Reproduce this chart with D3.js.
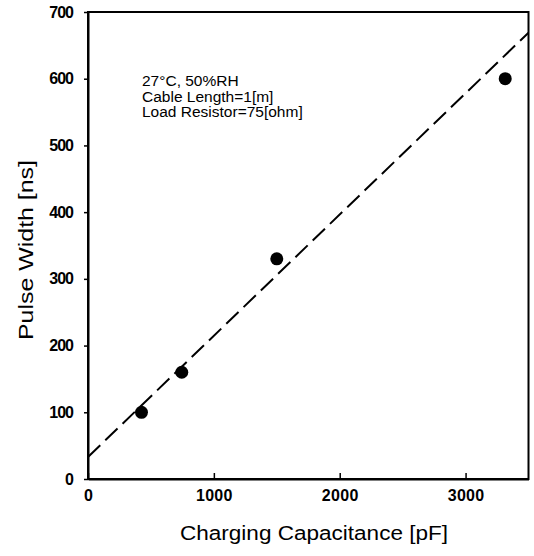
<!DOCTYPE html>
<html>
<head>
<meta charset="utf-8">
<script src="https://cdn.jsdelivr.net/npm/d3@7"></script>
<style>
  html, body { margin: 0; padding: 0; background: #fff; }
  svg { display: block; font-family: "Liberation Sans", Arial, sans-serif; }
</style>
</head>
<body>
<svg id="chart" width="534" height="556"></svg>
<script>
// Measured pulse widths vs. charging capacitance
const capacitance = [425, 745, 1500, 3315];      // pF
const pulseWidth  = [100, 160, 330, 600];        // ns

// Linear fit shown as the dashed line (endpoints over the x domain)
const fitX = [0, 3500];
const fitY = [33, 669];

const xTicks = [0, 1000, 2000, 3000];
const yTicks = [0, 100, 200, 300, 400, 500, 600, 700];

const notes = ["27\u00B0C, 50%RH", "Cable Length=1[m]", "Load Resistor=75[ohm]"];

const margin = { left: 88, top: 12, right: 5, bottom: 77 };
const W = 534, H = 556;
const svg = d3.select("#chart");

const x = d3.scaleLinear().domain([0, 3500]).range([margin.left, W - margin.right - 0.5]);
const y = d3.scaleLinear().domain([0, 700]).range([H - margin.bottom, margin.top]);

// Frame
svg.append("rect")
  .attr("x", x(0)).attr("y", y(700))
  .attr("width", x(3500) - x(0)).attr("height", y(0) - y(700))
  .attr("fill", "none").attr("stroke", "#000").attr("stroke-width", 2);

// Axes
const xAxis = svg.append("g")
  .attr("transform", `translate(0,${y(0)})`)
  .call(d3.axisBottom(x).tickValues(xTicks).tickFormat(d3.format("d"))
    .tickSizeInner(-6).tickSizeOuter(0).tickPadding(11));
const yAxis = svg.append("g")
  .attr("transform", `translate(${x(0)},0)`)
  .call(d3.axisLeft(y).tickValues(yTicks).tickFormat(d3.format("d"))
    .tickSizeInner(4).tickSizeOuter(0).tickPadding(10));

[xAxis, yAxis].forEach(g => {
  g.select(".domain").attr("stroke", "#000").attr("stroke-width", 2);
  g.selectAll(".tick line").attr("stroke", "#000").attr("stroke-width", 1.5);
  g.selectAll(".tick text")
    .attr("fill", "#000")
    .style("font-size", "16px")
    .style("font-weight", "bold")
    .style("font-family", "'Liberation Sans', Arial, sans-serif");
});
xAxis.selectAll(".tick text").style("letter-spacing", "0.3px");
yAxis.selectAll(".tick text").attr("x", -15).style("letter-spacing", "-1px");

// Fit line
const line = d3.line().x(d => x(d[0])).y(d => y(d[1]));
svg.append("path")
  .datum(d3.zip(fitX, fitY))
  .attr("d", line)
  .attr("fill", "none")
  .attr("stroke", "#000")
  .attr("stroke-width", 2)
  .attr("stroke-dasharray", "17,7");

// Data points
svg.append("g").selectAll("circle")
  .data(d3.zip(capacitance, pulseWidth))
  .join("circle")
  .attr("cx", d => x(d[0]))
  .attr("cy", d => y(d[1]))
  .attr("r", 6.5)
  .attr("fill", "#000");

// Condition notes
svg.append("g").selectAll("text")
  .data(notes)
  .join("text")
  .attr("x", 142)
  .attr("y", (d, i) => 86 + i * 15.5)
  .style("font-size", "15.5px")
  .attr("fill", "#000")
  .text(d => d);

// Axis titles
svg.append("text")
  .attr("x", 180).attr("y", 540)
  .attr("textLength", 268)
  .attr("lengthAdjust", "spacingAndGlyphs")
  .style("font-size", "20px")
  .attr("fill", "#000")
  .text("Charging Capacitance [pF]");

svg.append("text")
  .attr("transform", "translate(33,340) rotate(-90)")
  .attr("textLength", 180)
  .attr("lengthAdjust", "spacingAndGlyphs")
  .style("font-size", "21px")
  .attr("fill", "#000")
  .text("Pulse Width [ns]");
</script>
</body>
</html>
